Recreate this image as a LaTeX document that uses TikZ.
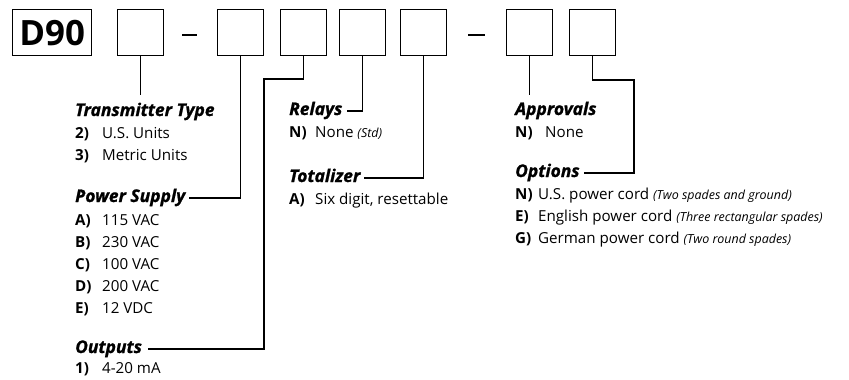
\documentclass[tikz,border=0pt]{standalone}
\usepackage{fontspec}
\setmainfont{Open Sans}
\newfontfamily\hdrfont[FakeBold=1.1]{Open Sans}
\begin{document}
\begin{tikzpicture}[x=1bp,y=-1bp,
  box/.style={draw, line width=1.4bp, minimum width=46bp, minimum height=46bp, inner sep=0, anchor=north west},
  hdr/.style={font=\hdrfont\fontsize{17.5}{20}\selectfont\bfseries\itshape, anchor=base west, inner sep=0},
  lbl/.style={font=\fontsize{15.2}{18}\selectfont\bfseries, anchor=base west, inner sep=0},
  itm/.style={font=\fontsize{15.2}{18}\selectfont, anchor=base west, inner sep=0},
  conn/.style={line width=1.2bp}]
\newcommand{\nt}[1]{{\fontsize{12.5}{14}\selectfont\itshape #1}}
\useasboundingbox (0,0) rectangle (849,379);
% top row
\node[box, minimum width=79bp, font=\fontsize{35}{40}\selectfont\bfseries] (d90) at (12,9) {D90};
\node[box] (b1) at (117,9) {};
\node[box] (b2) at (217,9) {};
\node[box] (b3) at (280,9) {};
\node[box] (b4) at (339,9) {};
\node[box] (b5) at (400,9) {};
\node[box] (b6) at (506,9) {};
\node[box] (b7) at (569,9) {};
\coordinate (da1) at (182,35); \coordinate (da2) at (197,35);
\coordinate (db1) at (468,35); \coordinate (db2) at (485,35);
\draw[line width=1.8bp] (da1) -- (da2);
\draw[line width=1.8bp] (db1) -- (db2);
% left column
\node[hdr] (tt) at (75,116) {Transmitter Type};
\node[lbl] (t2) at (75,138) {2)}; \node[itm] (t2t) at (102,138) {U.S. Units};
\node[lbl] (t3) at (75,160) {3)}; \node[itm] (t3t) at (102,160) {Metric Units};
\node[hdr] (ps) at (75,202) {Power Supply};
\node[lbl] (pa) at (75,225) {A)}; \node[itm] (pat) at (102,225) {115 VAC};
\node[lbl] (pb) at (75,247) {B)}; \node[itm] (pbt) at (102,247) {230 VAC};
\node[lbl] (pc) at (75,269) {C)}; \node[itm] (pct) at (102,269) {100 VAC};
\node[lbl] (pd) at (75,291) {D)}; \node[itm] (pdt) at (102,291) {200 VAC};
\node[lbl] (pe) at (75,313) {E)}; \node[itm] (pet) at (102,313) {12 VDC};
\node[hdr] (out) at (75,353) {Outputs};
\node[lbl] (o1) at (75,373) {1)}; \node[itm] (o1t) at (102,373) {4-20 mA};
% middle column
\node[hdr] (rel) at (289,115) {Relays};
\node[lbl] (rn) at (289,137) {N)}; \node[itm] (rnt) at (315,137) {None \nt{(Std)}};
\node[hdr] (tot) at (289,182) {Totalizer};
\node[lbl] (ta) at (289,204) {A)}; \node[itm] (tat) at (315,204) {Six digit, resettable};
% right column
\node[hdr] (app) at (515,115) {Approvals};
\node[lbl] (an) at (515,137) {N)}; \node[itm] (ant) at (545,137) {None};
\node[hdr] (opt) at (515,177) {Options};
\node[lbl] (on) at (515,199) {N)}; \node[itm] (ont) at (538,199) {U.S. power cord \nt{(Two spades and ground)}};
\node[lbl] (oe) at (515,221) {E)}; \node[itm] (oet) at (538,221) {English power cord \nt{(Three rectangular spades)}};
\node[lbl] (og) at (515,243) {G)}; \node[itm] (ogt) at (538,243) {German power cord \nt{(Two round spades)}};
% connector end points
\coordinate (e1) at (140,95);
\coordinate (k3) at (264,79);
\coordinate (e6) at (529,95);
\coordinate (k7) at (634,80);
% connectors
\draw[conn] (b1.south) -- (b1.south |- e1);
\draw[conn] (b2.south) |- ([shift={(4bp,4bp)}]ps.base east);
\draw[conn] (b3.south) |- (k3) |- ([shift={(6bp,4bp)}]out.base east);
\draw[conn] (b4.south) |- ([shift={(4bp,4bp)}]rel.base east);
\draw[conn] (b5.south) |- ([shift={(4bp,4bp)}]tot.base east);
\draw[conn] (b6.south) -- (b6.south |- e6);
\draw[conn] (b7.south) |- (k7) |- ([shift={(4bp,4bp)}]opt.base east);
\end{tikzpicture}
\end{document}
